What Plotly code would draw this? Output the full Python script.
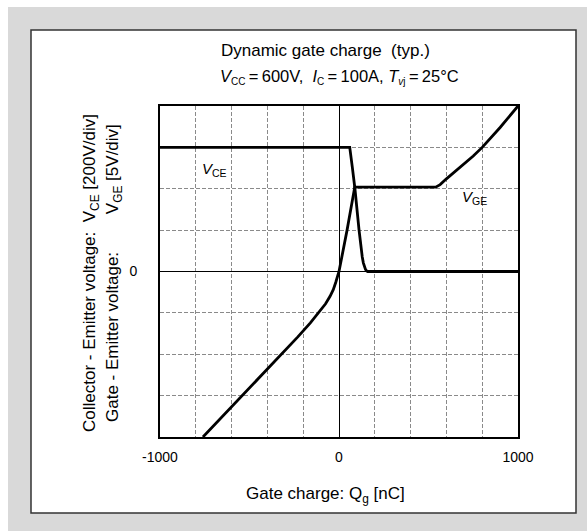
import plotly.graph_objects as go

# ---- data (physical units) ----
vce_q = [-1000, 60, 75, 89, 112, 118, 124, 130, 136, 142, 148, 154, 160, 1000]   # nC
vce_v = [600, 600, 500, 400, 200, 150, 105, 70, 42, 22, 10, 3, 0, 0]             # V
vge_q = [-760, -540, -320, -230, -160, -110, -75, -50, -32, -18, -8, 0,
         45, 88, 540, 552, 565, 600, 700, 750, 800, 850, 900, 1000]               # nC
vge_v = [-20, -15, -10, -7.9, -6.2, -4.9, -3.9, -3.0, -2.2, -1.3, -0.6, 0,
         5, 10.2, 10.2, 10.3, 10.5, 11.2, 13.0, 13.95, 15.0, 16.2, 17.4, 20]      # V
VCE_DIV = 200.0
VGE_DIV = 5.0
x_tickvals = [-1000, 0, 1000]
x_ticktext = ["-1000", "0", "1000"]

W, H = 587, 531
L, R, T, B = 160, 518, 106, 437
FONT = "Liberation Sans, Arial, sans-serif"

def px(x):
    return (x - L) / (R - L)

def py(y):
    return (B - y) / (B - T)

fig = go.Figure()
fig.add_trace(go.Scatter(x=vce_q, y=[v / VCE_DIV for v in vce_v], mode="lines",
                         line=dict(color="black", width=2.8), showlegend=False))
fig.add_trace(go.Scatter(x=vge_q, y=[v / VGE_DIV for v in vge_v], mode="lines",
                         line=dict(color="black", width=2.8), showlegend=False))

NB = "\u00a0"
TH = "\u2009"

def sub(s):
    return '<sub><span style="font-size:10px">' + s + '</span></sub>'

subtitle = ("<i>V</i>" + sub("CC") + TH + "=" + TH + "600V," + NB * 2 +
            "<i>I</i>" + sub("C") + TH + "=" + TH + "100A," + NB +
            "<i>T</i>" + sub("<i>v</i>j") + TH + "=" + TH + "25°C")
ann = [
    dict(text="Dynamic gate charge" + NB * 2 + "(typ.)", x=px(325), y=py(50), font_size=17),
    dict(text=subtitle, x=px(339), y=py(77), font_size=16.5),
    dict(text="Gate charge:" + NB + "Q<sub>g</sub>" + NB + "[nC]", x=px(325), y=py(495), font_size=17),
    dict(text="Collector - Emitter voltage:" + NB * 2 + "V<sub>CE</sub>" + NB + "[200V/div]",
         x=px(91), y=py(273), font_size=17, textangle=-90),
    dict(text="Gate - Emitter voltage:" + NB * 8 + "V<sub>GE</sub>" + NB + "[5V/div]",
         x=px(114), y=py(273), font_size=17, textangle=-90),
    dict(text="<i>V</i><sub>CE</sub>", x=px(214), y=py(169), font_size=15),
    dict(text="<i>V</i><sub>GE</sub>", x=px(474), y=py(197), font_size=15),
]
for a in ann:
    fig.add_annotation(xref="paper", yref="paper", showarrow=False,
                       xanchor="center", yanchor="middle",
                       font=dict(family=FONT, color="black", size=a.pop("font_size")), **a)

# background panels
fig.add_shape(type="rect", xref="paper", yref="paper", layer="below",
              x0=px(8), x1=px(587), y0=py(531), y1=py(7),
              fillcolor="#d9d9d9", line=dict(width=0))
fig.add_shape(type="rect", xref="paper", yref="paper", layer="below",
              x0=px(31), x1=px(576), y0=py(513), y1=py(30),
              fillcolor="white", line=dict(color="#333333", width=1.5))

grid = dict(showgrid=True, gridcolor="#8a8a8a", gridwidth=1, griddash="4px,2px", ticks="")
fig.update_xaxes(range=[-1000, 1000], tickmode="array", tickvals=x_tickvals, ticktext=x_ticktext,
                 showgrid=False, zeroline=True, zerolinecolor="black", zerolinewidth=1,
                 showline=True, mirror=True, linecolor="black", linewidth=2,
                 ticks="", ticklabelstandoff=6,
                 minor=dict(dtick=200, tick0=0, **grid),
                 tickfont=dict(family=FONT, size=14, color="black"))
fig.update_yaxes(range=[-4, 4], tickmode="array", tickvals=[0], ticktext=["0"],
                 showgrid=False, zeroline=True, zerolinecolor="black", zerolinewidth=1,
                 showline=True, mirror=True, linecolor="black", linewidth=2,
                 ticks="", ticklabelstandoff=18,
                 minor=dict(dtick=1, tick0=0, **grid),
                 tickfont=dict(family=FONT, size=14, color="black"))

fig.update_layout(width=W, height=H, autosize=False,
                  margin=dict(l=L, r=W - R, t=T, b=H - B, pad=0),
                  paper_bgcolor="white", plot_bgcolor="white",
                  font=dict(family=FONT, color="black"))

fig.write_html("out.html")
